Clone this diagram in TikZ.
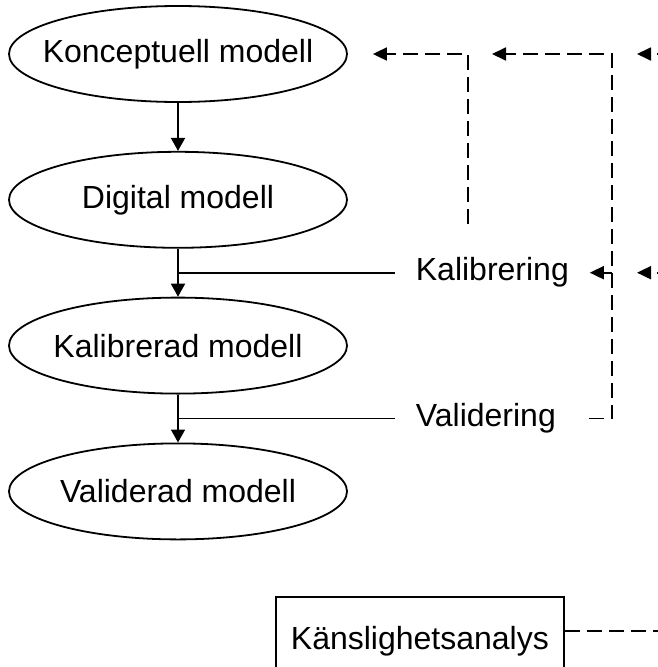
\documentclass[tikz,border=0pt]{standalone}
\usepackage{fontspec}
\setmainfont{Liberation Sans}
\usetikzlibrary{positioning, arrows.meta, shapes.geometric}

\begin{document}
\begin{tikzpicture}[x=1pt, y=-1pt, line width=1.8pt,
    font=\fontsize{32}{38}\selectfont,
    model/.style={draw, ellipse, minimum width=338pt, minimum height=96pt, inner sep=0pt,
      label={center:#1}},
    steplabel/.style={inner xsep=20pt, inner ysep=33pt},
    flow/.style={-{Triangle[length=13pt, width=14pt]}},
    dashline/.style={dash pattern=on 15pt off 7pt},
    feedback/.style={dashline, -{Triangle[length=14pt, width=13pt]}}]
  \useasboundingbox (0,0) rectangle (658,667);

  % model chain
  \node[model=Konceptuell modell] (konc) at (178,54) {};
  \node[model=Digital modell, below=48pt of konc] (dig) {};
  \node[model=Kalibrerad modell, below=48pt of dig] (kalibmod) {};
  \node[model=Validerad modell, below=48pt of kalibmod] (validmod) {};

  \draw[flow] (konc) -- (dig);
  \draw[flow] (dig) -- coordinate (kalibpt) (kalibmod);
  \draw[flow] (kalibmod) -- coordinate (validpt) (validmod);

  % steps
  \node[steplabel, right=217pt of kalibpt] (kalib) {Kalibrering};
  \node[steplabel, right=217pt of validpt] (valid) {Validering};
  \draw (kalibpt) -- (kalib);
  \draw (validpt) -- (valid);

  % feedback loops
  \coordinate (rail) at (612,54);
  \coordinate (railtip) at (492,54);
  \coordinate (inA) at (637,54);
  \coordinate (inB) at (inA |- kalib.east);
  \draw[feedback, shorten >=25pt] ([xshift=-24pt]kalib.north) |- (konc.east);
  \draw[feedback] ([xshift=12pt]valid.east) -| (rail) -- (railtip);
  \draw[feedback] (kalib.east -| rail) -- (kalib.east);
  \draw[feedback] ([xshift=35pt]inA) -- (inA);
  \draw[feedback] ([xshift=35pt]inB) -- (inB);

  % sensitivity
  \node[draw, anchor=north west, minimum width=288pt, minimum height=88pt] (sens)
    at (275,596) {Känslighetsanalys};
  \coordinate (outC) at (672,631);
  \draw[dashline] (sens.east |- outC) -- (outC);
\end{tikzpicture}
\end{document}
